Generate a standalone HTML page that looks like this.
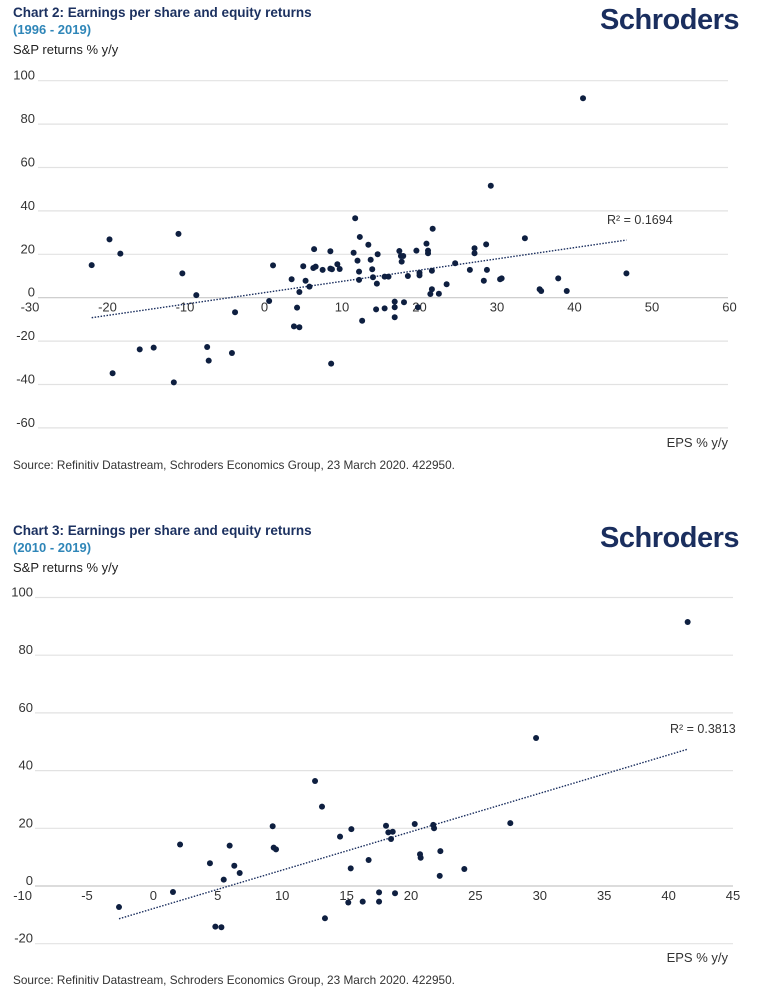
<!DOCTYPE html>
<html><head><meta charset="utf-8">
<style>
html,body{margin:0;padding:0;background:#fff;}
body{width:765px;height:1000px;position:relative;overflow:hidden;font-family:"Liberation Sans","DejaVu Sans",sans-serif;}
svg{position:absolute;left:0;top:0;}
</style></head>
<body>
<svg id="s" width="765" height="1000" viewBox="0 0 765 1000" xmlns="http://www.w3.org/2000/svg"></svg>
<script>
// Chart 2 (1996-2019) data
const c1X = [-22.3,-20.0,-18.6,-19.6,-16.1,-14.3,-11.1,-10.6,-11.7,-8.8,-7.4,-7.2,-3.8,-4.2,0.6,1.1,3.5,4.2,3.8,4.5,4.5,5.0,5.3,5.8,6.4,6.3,6.6,7.5,8.5,8.5,8.7,8.6,9.4,9.7,11.5,11.7,12.0,12.3,12.2,12.2,12.6,13.4,13.7,13.9,14.0,14.5,14.4,14.6,15.5,16.0,15.5,16.8,16.8,16.8,17.4,17.6,17.9,17.7,18.0,18.5,19.6,20.0,20.0,19.8,20.9,21.1,21.1,21.7,21.6,21.6,21.4,22.5,23.5,24.6,26.5,27.1,27.1,28.3,28.6,28.7,29.2,30.4,30.6,33.6,35.5,35.7,37.9,39.0,41.1,46.7];
const c1Y = [15,26.9,20.3,-34.8,-23.8,-23.0,29.4,11.2,-39.0,1.2,-22.7,-29.0,-6.7,-25.5,-1.5,14.9,8.5,-4.6,-13.2,-13.6,2.6,14.5,7.8,5.1,22.4,13.7,14.3,12.8,21.4,13.4,13.1,-30.4,15.4,13.2,20.7,36.6,17.1,28.0,12.0,8.2,-10.6,24.4,17.5,13.1,9.4,6.5,-5.4,20.0,9.7,9.7,-4.9,-1.8,-4.4,-9.0,21.5,19.2,19.2,16.6,-2.1,10.0,21.7,11.5,10.3,-4.4,24.9,21.7,20.5,31.8,12.4,3.9,1.7,1.8,6.2,15.9,12.8,22.8,20.5,7.8,24.6,12.8,51.6,8.5,8.9,27.4,3.9,3.1,8.9,3.1,91.9,11.2];
const c1XTicks = [-30,-20,-10,0,10,20,30,40,50,60];
const c1YTicks = [100,80,60,40,20,0,-20,-40,-60];
// Chart 3 (2010-2019) data
const c2X = [-2.67,1.52,2.07,4.39,4.81,5.28,5.46,5.92,6.28,6.70,9.26,9.34,9.52,12.55,13.09,13.32,14.49,15.13,15.37,15.32,16.25,16.71,17.52,17.52,18.06,18.24,18.58,18.45,18.76,20.29,20.70,20.75,21.73,21.79,22.28,22.23,24.14,27.71,29.71,41.48];
const c2Y = [-7.3,-2.1,14.4,7.9,-14.1,-14.3,2.2,14.0,7.0,4.5,20.7,13.3,12.7,36.4,27.5,-11.2,17.1,-5.7,19.7,6.1,-5.4,9.0,-2.2,-5.4,20.9,18.6,18.8,16.3,-2.5,21.5,11.0,9.8,21.2,20.0,12.1,3.5,5.9,21.8,51.3,91.5];
const c2XTicks = [-10,-5,0,5,10,15,20,25,30,35,40,45];
const c2YTicks = [100,80,60,40,20,0,-20];

const NS='http://www.w3.org/2000/svg';
const svg=document.getElementById('s');
function mk(tag,attrs,parent,text){const e=document.createElementNS(NS,tag);for(const k in attrs)e.setAttribute(k,attrs[k]);if(text!==undefined)e.textContent=text;(parent||svg).appendChild(e);return e;}

function chart(o){
  const g=mk('g',{});
  
  
  const sx=v=>o.x0+o.kx*v, sy=v=>o.y0-o.ky*v;
  const t1=mk('text',{x:13,y:o.top+5,'font-size':'13.5','font-weight':'bold',fill:'#1c3160'},g,o.title);
  
  
  const t2=mk('text',{x:13,y:o.top+22,'font-size':'13','font-weight':'bold',fill:'#2f86b8'},g,o.sub);
  
  
  const t3=mk('text',{x:13,y:o.top+42,'font-size':'13',fill:'#222'},g,'S&P returns  % y/y');
  
  
  const lg=mk('text',{x:739,y:o.top+17,'font-size':'29','font-weight':'bold','text-anchor':'end',fill:'#1a2e5e','letter-spacing':'-0.5'},g,'Schroders');
  
  
  o.yt.forEach(v=>{
    const y=sy(v);
    const l=mk('line',{x1:o.gx0,x2:o.gx1,y1:y,y2:y,stroke:v===0?'#c8c8c8':'#e2e2e2','stroke-width':1.2},g);
    
    
    const t=mk('text',{x:o.ylx,y:y-1,'font-size':'13','text-anchor':'end',fill:'#333'},g,String(v));
    
    
  });
  o.xt.forEach(v=>{
    const t=mk('text',{x:sx(v)+(v<0?-2:0),y:o.y0+14,'font-size':'13','text-anchor':'middle',fill:'#333'},g,String(v));
    
    
  });
  const n=o.X.length;let mx=0,my=0;for(let i=0;i<n;i++){mx+=o.X[i];my+=o.Y[i];}mx/=n;my/=n;
  let sxy=0,sxx=0;for(let i=0;i<n;i++){sxy+=(o.X[i]-mx)*(o.Y[i]-my);sxx+=(o.X[i]-mx)**2;}
  const b=sxy/sxx,a=my-b*mx;const xa=Math.min(...o.X),xb=Math.max(...o.X);
  const tl=mk('line',{x1:sx(xa),y1:sy(a+b*xa),x2:sx(xb),y2:sy(a+b*xb),stroke:'#1a2e5e','stroke-width':1.4,'stroke-dasharray':'1.5 1.5'},g);
  
  
  for(let i=0;i<n;i++){
    const c=mk('circle',{cx:sx(o.X[i]),cy:sy(o.Y[i]),r:3,fill:'#0e1f40'},g);
    
    
  }
  const r=mk('text',{x:o.rx,y:o.ry,'font-size':'12.5',fill:'#333'},g,o.r2);
  
  
  const ex=mk('text',{x:728,y:o.epsY,'font-size':'13','text-anchor':'end',fill:'#333'},g,'EPS % y/y');
  
  
  const src=mk('text',{x:13,y:o.srcY,'font-size':'11.8',fill:'#333'},g,'Source: Refinitiv Datastream, Schroders Economics Group, 23 March 2020. 422950.');
  
  
}
chart({name:'chart-2-scatter',title:'Chart 2: Earnings per share and equity returns',sub:'(1996 - 2019)',top:12,
  X:c1X,Y:c1Y,xt:c1XTicks,yt:c1YTicks,x0:264.5,kx:7.75,y0:297.7,ky:2.17,gx0:38,gx1:728,ylx:35,
  r2:'R² = 0.1694',rx:607,ry:224,epsY:447,srcY:469});
chart({name:'chart-3-scatter',title:'Chart 3: Earnings per share and equity returns',sub:'(2010 - 2019)',top:530,
  X:c2X,Y:c2Y,xt:c2XTicks,yt:c2YTicks,x0:153.4,kx:12.88,y0:886,ky:2.885,gx0:35,gx1:733,ylx:33,
  r2:'R² = 0.3813',rx:670,ry:733,epsY:962,srcY:984});
</script>
</body></html>
